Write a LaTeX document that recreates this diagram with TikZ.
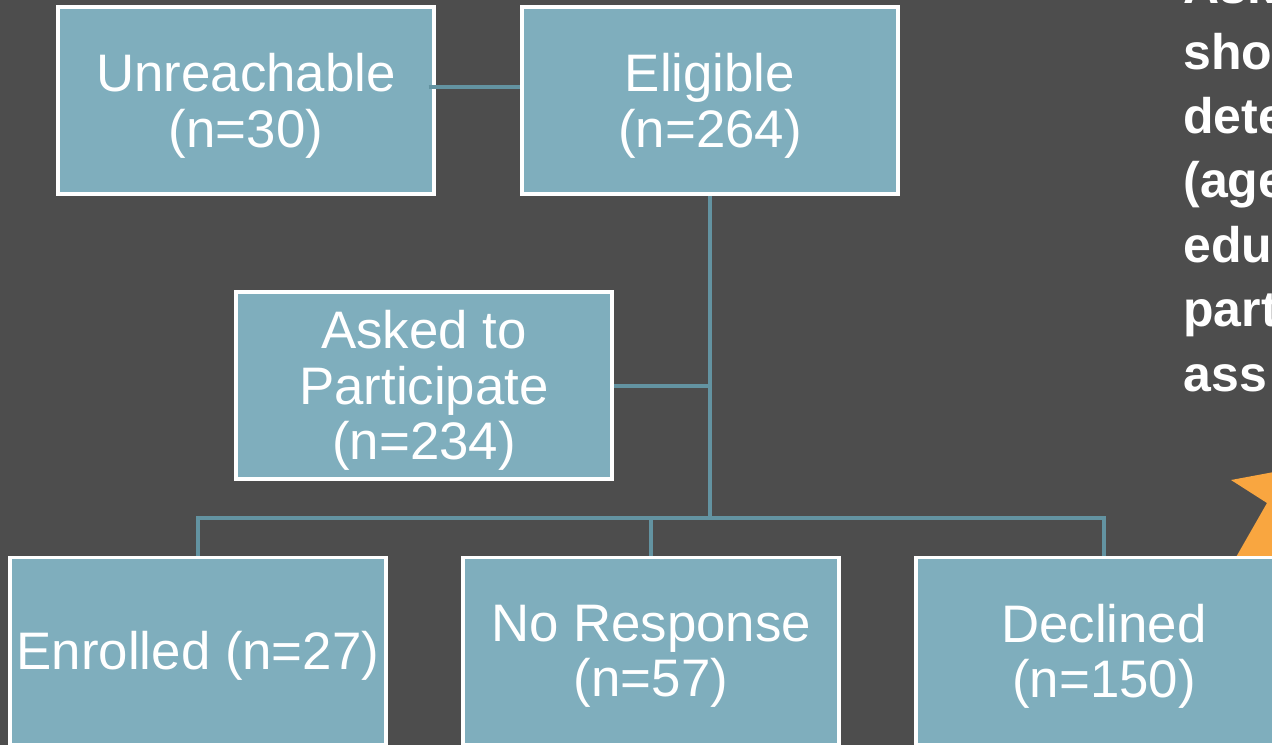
\documentclass[tikz,border=0pt]{standalone}
\usepackage{fontspec}
\setmainfont{Liberation Sans}
\usetikzlibrary{backgrounds}
\definecolor{bgdark}{HTML}{4D4D4D}
\definecolor{boxfill}{HTML}{7FAEBD}
\definecolor{linkcol}{HTML}{6393A1}
\definecolor{starorange}{HTML}{F9A640}
\begin{document}
\begin{tikzpicture}[x=0.5pt,y=-0.5pt,
  box/.style={draw=white, line width=1.6pt, fill=boxfill,
    minimum width=188pt, minimum height=93.5pt, inner sep=0pt},
  boxtext/.style={inner sep=0pt, yshift=-2.6pt, align=center, text=white,
    font=\fontsize{26.4}{27.8}\selectfont},
  link/.style={draw=linkcol, line width=2pt},
  note/.style={anchor=base west, inner sep=0pt, text=white,
    font=\fontsize{25}{30}\selectfont\bfseries}]
\useasboundingbox (0,0) rectangle (1272,745);
\clip (0,0) rectangle (1272,745);

% flow boxes with their captions
\path (246,100.5) node[box] (unr) {} node[boxtext] (unrtext) {Unreachable\\(n=30)};
\path (710,100.5) node[box] (elig) {} node[boxtext] (eligtext) {Eligible\\(n=264)};
\path (424,385.5) node[box] (asked) {} node[boxtext] (askedtext) {Asked to\\Participate\\(n=234)};
\path (198,651) node[box] (enr) {} node[boxtext] (enrtext) {Enrolled (n=27)};
\path (651,651) node[box] (nor) {} node[boxtext] (nortext) {No Response\\(n=57)};
\path (1104,651) node[box] (dec) {} node[boxtext] (dectext) {Declined\\(n=150)};

% side note, running off the right edge
\foreach \txt/\yy [count=\i] in {{Ask}/3, {sho}/69, {dete}/133.5, {(age}/197.5, {edu}/262, {part}/326.5, {ass}/391}
  \node[note] (note\i) at (1183,\yy) {\txt};

\coordinate (fork) at (710,518);

\begin{scope}[on background layer]
  \fill[bgdark] (0,0) rectangle (1272,745);
  % orange star point peeking out behind the Declined box
  \fill[starorange] (1231,480) -- (1290,469) -- (1290,620) -- (1200,620) -- (1267,503) -- cycle;
  % tree connectors
  \draw[link] (elig.south) -- (fork);
  \draw[link] (asked.east) -- (asked.east -| elig.south);
  \draw[link] (enr.north) -- (enr.north |- fork) -- (dec.north |- fork) -- (dec.north);
  \draw[link] (nor.north) -- (nor.north |- fork);
\end{scope}

% side link between Unreachable and Eligible
\draw[link] ([xshift=-3.5pt,yshift=7pt]unr.east) -- ([yshift=7pt]elig.west);
\end{tikzpicture}
\end{document}
